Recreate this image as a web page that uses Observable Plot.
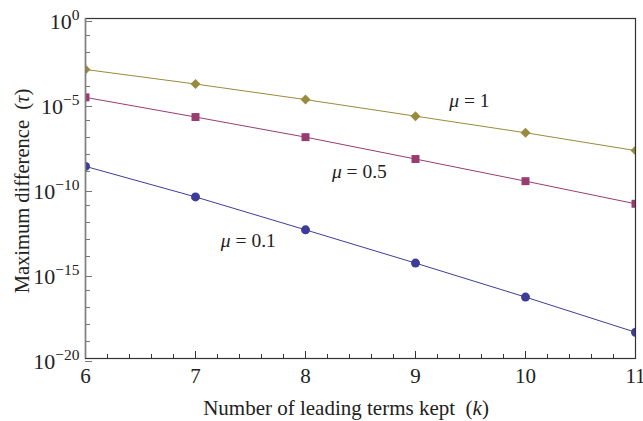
<!DOCTYPE html>
<html><head><meta charset="utf-8">
<script src="https://cdn.jsdelivr.net/npm/d3@7"></script>
<script src="https://cdn.jsdelivr.net/npm/@observablehq/plot@0.6"></script>
<style>body{margin:0;background:#fff}</style>
</head><body><div id="chart"></div>
<script>
// Number of leading terms kept (k)
const k = [6, 7, 8, 9, 10, 11];
// Maximum difference for each mu
const mu01 = [2.0e-9, 3.2e-11, 3.7e-13, 4.1e-15, 4.1e-17, 3.5e-19];
const mu05 = [2.3e-5, 1.6e-6, 1.05e-7, 5.4e-9, 2.7e-10, 1.26e-11];
const mu1  = [1.0e-3, 1.4e-4, 1.7e-5, 1.8e-6, 1.9e-7, 1.7e-8];
const seriesNames = ["μ = 0.1", "μ = 0.5", "μ = 1"];
const seriesColors = ["#3d3d99", "#993d71", "#998b3d"];
const seriesSymbols = ["circle", "square", "diamond2"];
// label anchors (annotation positions)
const labelK = [7.48, 8.49, 9.49];
const labelV = [8.7e-14, 1.0e-9, 1.5e-5];
// ticks
const xMajor = [6, 7, 8, 9, 10, 11];
const yMajorExp = [-20, -15, -10, -5, 0];

const xMinor = d3.range(6, 11.001, 0.2).filter(v => Math.abs(v - Math.round(v)) > 1e-6);
const yMinor = d3.range(-20, 1).filter(e => e % 5 !== 0).map(e => 10 ** e);
const yMajor = yMajorExp.map(e => 10 ** e);

const allSeries = [mu01, mu05, mu1];
const rows = allSeries.flatMap((vals, s) => k.map((kk, i) => ({k: kk, v: vals[i], s: seriesNames[s]})));
const labels = seriesNames.map((n, i) => ({n, k: labelK[i], v: labelV[i]}));

const FONT = "Liberation Serif";

const plot = Plot.plot({
  width: 643, height: 421,
  marginLeft: 85, marginRight: 8, marginTop: 18, marginBottom: 63,
  style: {fontFamily: FONT, fontSize: "21px", background: "white", color: "#222"},
  x: {domain: [6, 11], label: null},
  y: {type: "log", domain: [1e-20, 1], label: null},
  color: {domain: seriesNames, range: seriesColors},
  symbol: {domain: seriesNames, range: seriesSymbols},
  marks: [
    Plot.axisX({ticks: xMinor, tickSize: -4, tickFormat: () => "", stroke: "#333"}),
    Plot.axisX({ticks: xMajor, tickSize: -7, tickPadding: 17, tickFormat: d => String(d),
      stroke: "#333", fontSize: 21, fontFamily: FONT, fill: "#222"}),
    Plot.axisY({ticks: yMinor, tickSize: -5, tickFormat: () => "", stroke: "#777"}),
    Plot.axisY({ticks: yMajor, tickSize: -7, tickPadding: 13, dy: 3,
      tickFormat: d => "10^" + String(Math.round(Math.log10(d))).replace("-", "−"),
      stroke: "#777", fontSize: 22, fontFamily: FONT, fill: "#222"}),
    Plot.line(rows, {x: "k", y: "v", z: "s", stroke: "s", strokeWidth: 1, clip: true}),
    Plot.dot(rows, {x: "k", y: "v", fill: "s", symbol: "s", r: 4.5, stroke: null, clip: true}),
    Plot.text(labels, {x: "k", y: "v", text: "n", fontSize: 19.5, fontFamily: FONT, fill: "#222"}),
    Plot.frame({stroke: "#333", strokeWidth: 1.2}),
    Plot.ruleX([6], {stroke: "#808080", strokeWidth: 1.5})
  ]
});

const svg = d3.select(plot);
svg.selectAll("text").each(function() {
  const t = this.textContent;
  const sel = d3.select(this);
  let m = /^10\^(.*)$/.exec(t);
  if (m) {
    sel.text("");
    sel.append("tspan").text("10");
    sel.append("tspan").attr("font-size", 15.5).attr("dy", "-9").text(m[1]);
    return;
  }
  if (t.startsWith("μ")) {
    sel.text("");
    sel.append("tspan").attr("font-style", "italic").text("μ");
    sel.append("tspan").text(t.slice(1));
  }
});

// axis titles
const xt = svg.append("text")
  .attr("x", 346).attr("y", 415)
  .attr("text-anchor", "middle").attr("font-family", FONT)
  .attr("font-size", 21).attr("fill", "#222");
xt.append("tspan").text("Number of leading terms kept  (");
xt.append("tspan").attr("font-style", "italic").text("k");
xt.append("tspan").text(")");

const yt = svg.append("text")
  .attr("transform", "translate(29,191) rotate(-90)")
  .attr("text-anchor", "middle").attr("font-family", FONT)
  .attr("font-size", 20.5).attr("fill", "#222");
yt.append("tspan").text("Maximum difference  (");
yt.append("tspan").attr("font-style", "italic").text("τ");
yt.append("tspan").text(")");

document.getElementById("chart").appendChild(plot);
</script>
</body></html>
